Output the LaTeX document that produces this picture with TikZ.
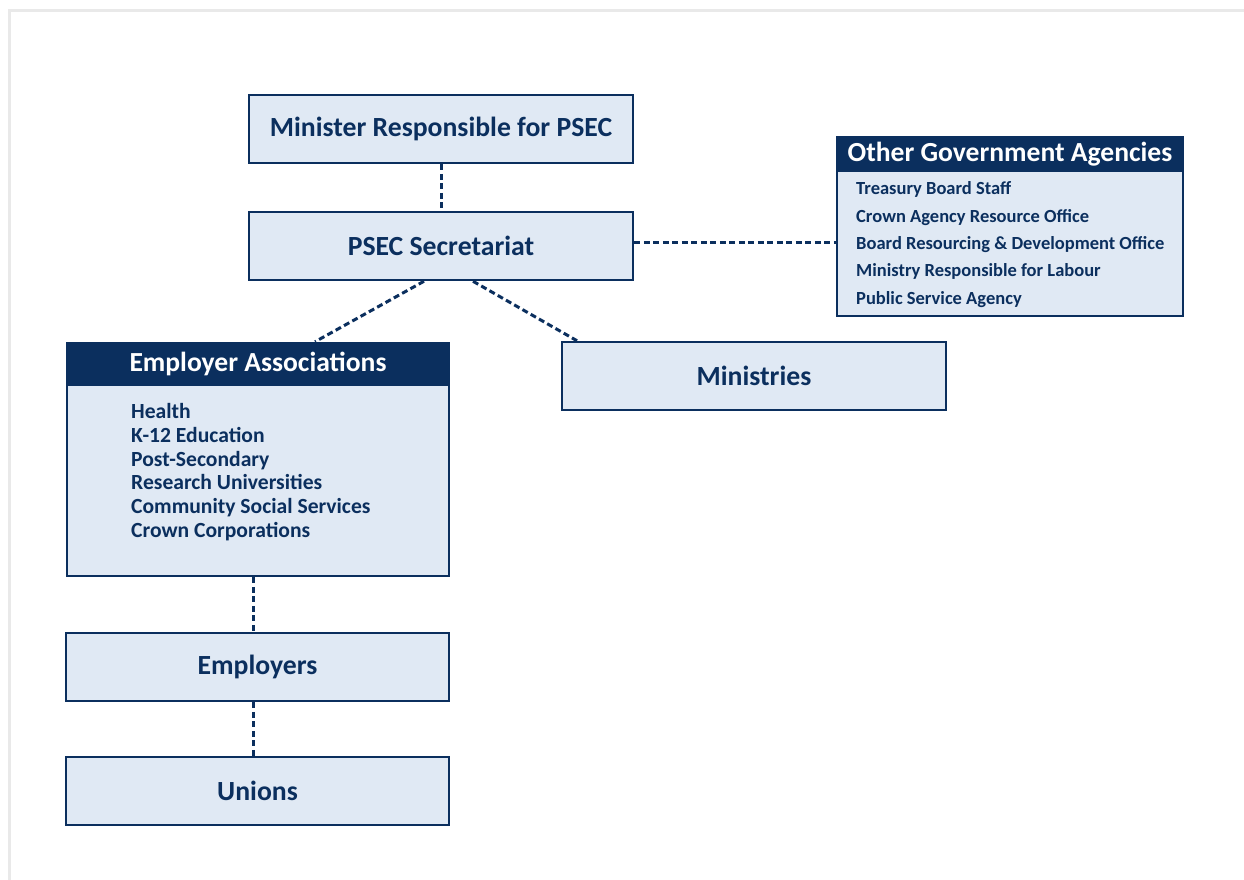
\documentclass[tikz,border=0pt]{standalone}
\usepackage{fontspec}
\setmainfont{Carlito}
\definecolor{navy}{HTML}{0B2F5E}
\definecolor{boxfill}{HTML}{E0E9F4}
\definecolor{framegray}{HTML}{E9E9E9}
\begin{document}
\begin{tikzpicture}[x=1pt,y=-1pt,
  box/.style={draw=navy,fill=boxfill,line width=2.5pt,inner sep=0pt,text=navy,font=\bfseries\fontsize{27.7}{32}\selectfont},
  head/.style={draw=navy,fill=navy,line width=2.5pt,inner sep=0pt,text=white},
  item/.style={anchor=base west,inner sep=0pt,text=navy},
  link/.style={draw=navy,line width=3pt,dash pattern=on 6pt off 3.5pt}]
\useasboundingbox (0,0) rectangle (1244,880);
\fill[white] (0,0) rectangle (1244,880);
\draw[framegray,line width=3pt] (9.5,880) -- (9.5,10.5) -- (1244,10.5);

% main boxes
\node[box,minimum width=384pt,minimum height=68pt] (min) at (441,129) {Minister Responsible for PSEC};
\node[box,minimum width=384pt,minimum height=68pt] (psec) at (441,246) {PSEC Secretariat};
\node[box,minimum width=384pt,minimum height=68pt] (mins) at (754,376) {Ministries};
\node[box,minimum width=383pt,minimum height=68pt] (emp) at (257.5,667) {Employers};
\node[box,minimum width=383pt,minimum height=68pt] (uni) at (257.5,791) {Unions};

% Other Government Agencies
\node[box,minimum width=346pt,minimum height=179pt] (oga) at (1010,226.5) {};
\node[head,anchor=north,minimum width=346pt,minimum height=34pt,font=\bfseries\fontsize{27.6}{30}\selectfont] (ogah) at (oga.north) {Other Government Agencies};
\begin{scope}[every node/.style={item,font=\bfseries\fontsize{18.5}{21}\selectfont}]
\node (o1) at (856,194) {Treasury Board Staff};
\node (o2) at (856,222) {Crown Agency Resource Office};
\node (o3) at (856,249) {Board Resourcing \& Development Office};
\node (o4) at (856,276) {Ministry Responsible for Labour};
\node (o5) at (856,304) {Public Service Agency};
\end{scope}

% Employer Associations
\node[box,minimum width=382pt,minimum height=233pt] (ea) at (258,459.5) {};
\node[head,anchor=north,minimum width=382pt,minimum height=42pt,font=\bfseries\fontsize{27.6}{30}\selectfont] (eah) at (ea.north) {Employer Associations};
\begin{scope}[every node/.style={item,font=\bfseries\fontsize{21.6}{24}\selectfont}]
\node (e1) at (131,418) {Health};
\node (e2) at (131,442) {K-12 Education};
\node (e3) at (131,466) {Post-Secondary};
\node (e4) at (131,489) {Research Universities};
\node (e5) at (131,513) {Community Social Services};
\node (e6) at (131,537) {Crown Corporations};
\end{scope}

% connectors
\draw[link] (min.south) -- (psec.north);
\draw[link] ([yshift=4pt]psec.east) -- ([yshift=4pt]psec.east -| oga.west);
\draw[link] ([xshift=-17pt]psec.south) -- ([xshift=57pt]ea.north);
\draw[link] ([xshift=32pt]psec.south) -- ([xshift=-177pt]mins.north);
\draw[link] ([xshift=-5pt]ea.south) -- ([xshift=-5pt]ea.south |- emp.north);
\draw[link] ([xshift=-4.5pt]emp.south) -- ([xshift=-4.5pt]emp.south |- uni.north);
\end{tikzpicture}
\end{document}
